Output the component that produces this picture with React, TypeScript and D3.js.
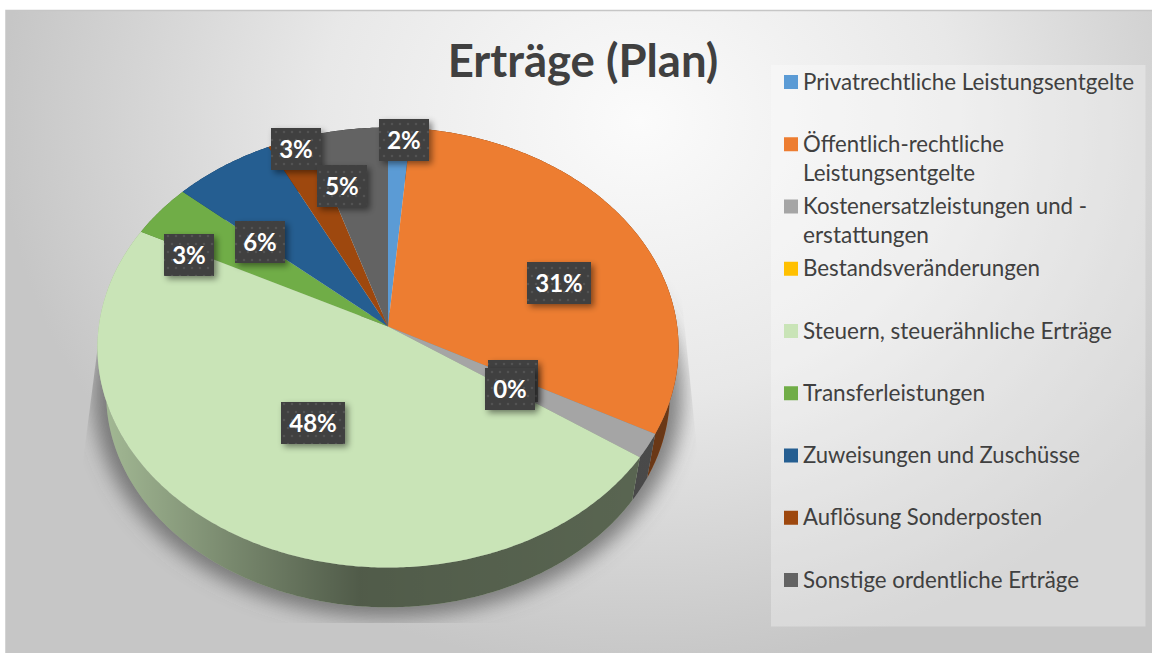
import React from "react";
import * as d3 from "d3";

const categories = [
  "Privatrechtliche Leistungsentgelte",
  "Öffentlich-rechtliche|Leistungsentgelte",
  "Kostenersatzleistungen und -|erstattungen",
  "Bestandsveränderungen",
  "Steuern, steuerähnliche Erträge",
  "Transferleistungen",
  "Zuweisungen und Zuschüsse",
  "Auflösung Sonderposten",
  "Sonstige ordentliche Erträge",
];
const values = [1.4, 31.4, 1.8, 0, 47.9, 3.9, 6.2, 2.5, 4.9];
const dataLabels = ["2%", "31%", "", "0%", "48%", "3%", "6%", "3%", "5%"];
const colors = ["#5B9BD5", "#ED7D31", "#A5A5A5", "#FFC000", "#C9E4B7", "#70AD47", "#255E91", "#9E480E", "#636363"];
const title = "Erträge (Plan)";

// layout
const labelCenters: [number, number][] = [
  [404, 140], [559, 283], [513, 381], [510, 389], [313, 423], [189, 255], [260, 242], [296, 149], [342, 186],
];
const legendLineWidths = [331, 201, 172, 284, 126, 237, 309, 182, 277, 239, 276];
const APEX = { x: 388, y: 326.5 };
const A = 289.2, B = 218, K = -0.0955;
const DEPTH = 47, BOTTOM_SCALE = 0.97;

function project(angle: number, t = 1) {
  const u = Math.sin(angle) * t;
  const v = -Math.cos(angle) * t;
  const d = 1 + K * v;
  return [APEX.x + (A * u) / d, APEX.y + (B * v) / d] as [number, number];
}
const lower = ([x, y]: [number, number]) =>
  [APEX.x + (x - APEX.x) * BOTTOM_SCALE, APEX.y + DEPTH + (y - APEX.y) * BOTTOM_SCALE] as [number, number];

const arcs = d3.pie<number>().sort(null).value((d) => d)(values);
const line = d3.line<[number, number]>();

function samples(a0: number, a1: number) {
  const n = Math.max(2, Math.ceil((a1 - a0) / 0.01));
  return d3.range(n + 1).map((i) => a0 + ((a1 - a0) * i) / n);
}
function facePath(a0: number, a1: number) {
  const pts: [number, number][] = [[APEX.x, APEX.y], ...samples(a0, a1).map((a) => project(a))];
  return line(pts) + "Z";
}
function wallPath(a0: number, a1: number) {
  const top = samples(a0, a1).map((a) => project(a));
  const bottom = top.map(lower).reverse();
  return line([...top, ...bottom]) + "Z";
}
const fullRing = samples(0, Math.PI * 2).map((a) => lower(project(a)));

export default function App() {
  const W = 1152, H = 653;
  let lineIndex = 0;
  return (
    <svg width={W} height={H} style={{ position: "absolute", left: 0, top: 0 }}>
      <defs>
        <radialGradient id="bg" gradientUnits="userSpaceOnUse" cx={640} cy={120} r={640} gradientTransform="translate(640 120) scale(1 0.86) translate(-640 -120)">
          <stop offset="0" stopColor="#fbfbfb" />
          <stop offset="0.5" stopColor="#e8e8e8" />
          <stop offset="1" stopColor="#c6c6c6" />
        </radialGradient>
        <linearGradient id="wallShade" gradientUnits="userSpaceOnUse" x1={97} x2={680} y1={0} y2={0}>
          <stop offset="0" stopColor="#000" stopOpacity={0.18} />
          <stop offset="0.25" stopColor="#000" stopOpacity={0.42} />
          <stop offset="0.45" stopColor="#000" stopOpacity={0.6} />
          <stop offset="1" stopColor="#000" stopOpacity={0.55} />
        </linearGradient>
        <filter id="blur" x="-20%" y="-20%" width="140%" height="140%">
          <feGaussianBlur stdDeviation={9} />
        </filter>
        <clipPath id="shadowClip">
          <path d="M98,345 L78,500 L78,623 L700,623 L702,500 L680,280 Z" />
        </clipPath>
        <pattern id="dots" width={8} height={16} patternUnits="userSpaceOnUse">
          <rect width={8} height={16} fill="#404040" />
          <circle cx={4} cy={4} r={1.3} fill="#525252" />
          <circle cx={0} cy={12} r={1.3} fill="#525252" />
          <circle cx={8} cy={12} r={1.3} fill="#525252" />
        </pattern>
        <filter id="labelShadow" x="-30%" y="-30%" width="170%" height="170%">
          <feDropShadow dx={3} dy={3} stdDeviation={3} floodColor="#000" floodOpacity={0.45} />
        </filter>
      </defs>

      <rect x={6} y={10} width={W - 6} height={H - 10} fill="url(#bg)" />
      <path d={`M6,${H}V10.5H${W}`} fill="none" stroke="#c6c6c6" strokeWidth={1.5} />

      <g clipPath="url(#shadowClip)">
        <path d={line(fullRing) + "Z"} fill="#5c5c5c" fillOpacity={0.72} filter="url(#blur)" transform="translate(388 380) scale(1.045) translate(-388 -380)" />
      </g>

      {arcs.map((a, i) => (
        <g key={"w" + i}>
          <path d={wallPath(a.startAngle, a.endAngle)} fill={colors[i]} />
          <path d={wallPath(a.startAngle, a.endAngle)} fill="url(#wallShade)" />
        </g>
      ))}
      {arcs.map((a, i) => (
        <path key={"f" + i} d={facePath(a.startAngle, a.endAngle)} fill={colors[i]} />
      ))}

      <text x={583} y={77} textAnchor="middle" fontFamily="Lato" fontWeight={700} fontSize={45.5} fill="#404040">
        {title}
      </text>

      <rect x={771} y={65} width={374.5} height={561.5} fill="#fff" fillOpacity={0.3} />
      {categories.map((c, i) => {
        const y = 82 + i * 62.25;
        return (
          <g key={"l" + i}>
            <rect x={784} y={y - 7} width={14} height={14} fill={colors[i]} />
            {c.split("|").map((t, j) => (
              <text key={j} x={803} y={y + 7.5 + j * 29} fontFamily="Lato" fontSize={22.3} fill="#404040" textLength={legendLineWidths[lineIndex++]} lengthAdjust="spacingAndGlyphs">
                {t}
              </text>
            ))}
          </g>
        );
      })}

      {dataLabels.map((t, i) => {
        const [cx, cy] = labelCenters[i];
        const w = (t || "0%").length === 2 ? 50 : 64;
        const h = 42;
        return (
          <g key={"d" + i}>
            <rect x={cx - w / 2} y={cy - h / 2} width={w} height={h} fill="url(#dots)" filter="url(#labelShadow)" />
            {t && (
              <text x={cx} y={cy + 8.5} textAnchor="middle" fontFamily="Lato" fontWeight={700} fontSize={24} fill="#fff">
                {t}
              </text>
            )}
          </g>
        );
      })}
    </svg>
  );
}
